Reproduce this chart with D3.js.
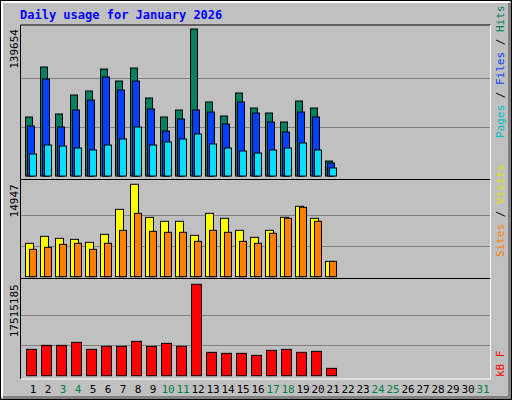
<!DOCTYPE html>
<html>
<head>
<meta charset="utf-8">
<script src="https://cdn.jsdelivr.net/npm/d3@7"></script>
<style>
  body { margin: 0; background: #fff; }
  text { font-family: "DejaVu Sans Mono", monospace; }
</style>
</head>
<body>
<svg id="chart" width="512" height="400"></svg>
<script>
// daily values for January 2026 (days 1..21 have data)
const days = d3.range(1, 32);
const weekend = [3, 4, 10, 11, 17, 18, 24, 25, 31];
const hits  = [56050, 103550, 58900, 76950, 80750, 101650, 90250, 102600, 74100, 56050, 62700, 139654, 70300, 57000, 78850, 64600, 59850, 51300, 71250, 64600, 14250];
const files = [47500, 92150, 46550, 62700, 72200, 94050, 81700, 90250, 63650, 42750, 54150, 62700, 60800, 49400, 70300, 59850, 51300, 41800, 60800, 56050, 12350];
const pages = [20900, 29450, 28500, 26600, 24700, 29450, 35150, 46550, 29450, 32300, 35150, 39900, 30400, 26600, 23750, 21850, 24700, 26600, 31350, 24700, 7600];
const visits = [5400, 6530, 6205, 6045, 5560, 6850, 10900, 14947, 9600, 8960, 8960, 6690, 10250, 9440, 7500, 6370, 7500, 9610, 11390, 9450, 2480];
const sites  = [4425, 4750, 5235, 5400, 4425, 5400, 7500, 10250, 7340, 7180, 7180, 5720, 7500, 7180, 5720, 5400, 7020, 9450, 11230, 8960, 2480];
const kbytes = [5050000, 5817000, 5817000, 6392000, 5050000, 5625000, 5625000, 6584000, 5625000, 6200000, 5625000, 17515185, 4475000, 4283000, 4283000, 3900000, 4858000, 5050000, 4475000, 4667000, 1406000];

const svg = d3.select('#chart');
const BG = '#c0c0c0';

// frame with bevel
svg.append('rect').attr('x', 0.5).attr('y', 0.5).attr('width', 511).attr('height', 399).attr('fill', BG).attr('stroke', '#000');
svg.append('path').attr('d', 'M2,397 V2 H509').attr('fill', 'none').attr('stroke', '#fff').attr('stroke-width', 2);
svg.append('path').attr('d', 'M3,397.5 H509.5 V3').attr('fill', 'none').attr('stroke', '#808080').attr('stroke-width', 3);

svg.append('text').attr('x', 20).attr('y', 19).attr('fill', '#0000ff')
    .attr('font-size', 12).attr('font-weight', 'bold').text('Daily usage for January 2026');

const x = d3.scaleLinear().domain([1, 31]).range([25, 475]);

// panel frames: top edge, bottom edge
const panels = [
    {top: 25, bottom: 179.5, y0: 176, y1: 29, max: 139654},
    {top: 179.5, bottom: 278.5, y0: 276.7, y1: 184.3, max: 14947},
    {top: 278.5, bottom: 379, y0: 375.7, y1: 284.3, max: 17515185}
];
panels.forEach(p => {
    p.y = d3.scaleLinear().domain([0, p.max]).range([p.y0, p.y1]);
    svg.append('rect').attr('x', 20.5).attr('y', p.top).attr('width', 470).attr('height', p.bottom - p.top)
        .attr('fill', BG).attr('stroke', 'none');
    [1 / 3, 2 / 3].forEach(f => {
        svg.append('line').attr('x1', 21).attr('x2', 490)
            .attr('y1', Math.round(p.y(p.max * f)) + 0.5).attr('y2', Math.round(p.y(p.max * f)) + 0.5)
            .attr('stroke', '#808080');
    });
    svg.append('path').attr('d', `M20.5,${p.bottom} V${p.top} H490.5`).attr('fill', 'none').attr('stroke', '#000');
    svg.append('path').attr('d', `M20.5,${p.bottom} H490.5 V${p.top}`).attr('fill', 'none').attr('stroke', '#fff');
    svg.append('text').attr('transform', `translate(18,${p.y1}) rotate(-90)`)
        .attr('text-anchor', 'end').attr('font-size', 11).attr('fill', '#000')
        .text(p.max);
});

const bars = (vals, p, dx, w, color) => {
    svg.append('g').selectAll('rect').data(vals).join('rect')
        .attr('x', (d, i) => x(i + 1) + dx + 0.5)
        .attr('y', d => p.y(d))
        .attr('width', w)
        .attr('height', d => p.y0 - p.y(d))
        .attr('fill', color).attr('stroke', '#000');
};
bars(hits, panels[0], 0, 7, '#008060');
bars(files, panels[0], 2, 7, '#0040ff');
bars(pages, panels[0], 4, 7, '#00e0ff');
bars(visits, panels[1], 0, 8, '#ffff00');
bars(sites, panels[1], 4, 7, '#ff8000');
bars(kbytes, panels[2], 1, 10, '#ff0000');

// day labels
svg.append('g').selectAll('text').data(days).join('text')
    .attr('x', d => x(d) + 8).attr('y', 393)
    .attr('text-anchor', 'middle').attr('font-size', 11)
    .attr('fill', d => weekend.includes(d) ? '#008040' : '#000')
    .text(d => d);

// right legends (rotated, reading bottom to top)
const legend = (yBottom, parts) => {
    const t = svg.append('text').attr('transform', `translate(504,${yBottom}) rotate(-90)`)
        .attr('font-size', 11);
    parts.forEach(([s, c]) => t.append('tspan').attr('fill', c).text(s));
};
legend(138, [['Pages', '#00c0c0'], [' / ', '#000'], ['Files', '#0040ff'], [' / ', '#000'], ['Hits', '#008060']]);
legend(257, [['Sites', '#ff8000'], [' / ', '#000'], ['Visits', '#e0e000']]);
legend(377, [['kB F', '#ff0000']]);
</script>
</body>
</html>
